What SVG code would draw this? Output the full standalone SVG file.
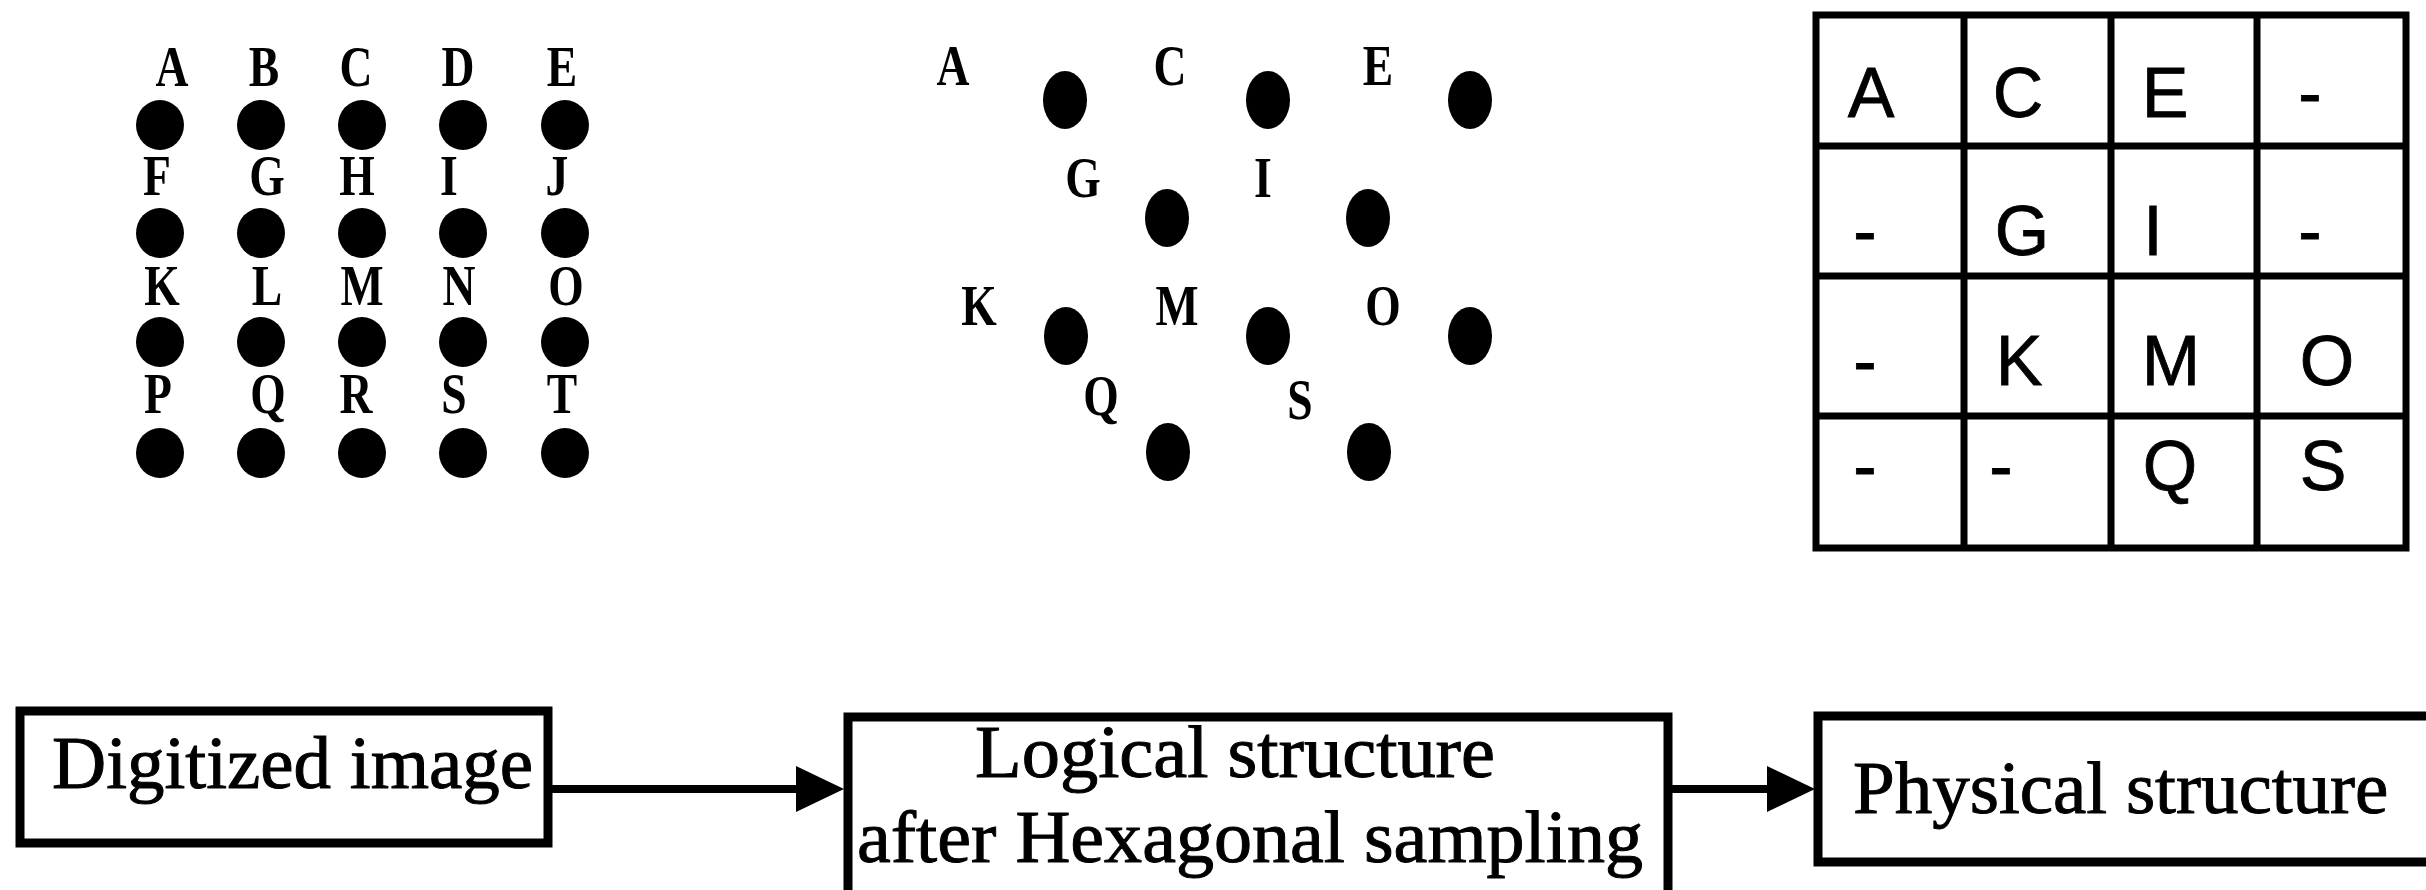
<svg xmlns="http://www.w3.org/2000/svg" width="2426" height="890" viewBox="0 0 2426 890">
<defs>
<style>
.lbl{font-family:"Liberation Serif","Times New Roman",serif;font-weight:bold;font-size:57px;fill:#000;text-anchor:middle}
.cell{font-family:"Liberation Sans",Arial,sans-serif;font-size:70px;fill:#000;text-anchor:middle;stroke:#000;stroke-width:0.8}
.box{fill:#fff;stroke:#000;stroke-width:9}
.btxt{font-family:"Liberation Serif","Times New Roman",serif;font-size:75px;fill:#000;stroke:#000;stroke-width:1}
.grid{fill:none;stroke:#000;stroke-width:7}
.conn{stroke:#000;stroke-width:8;fill:none}
</style>
<marker id="arr" markerUnits="userSpaceOnUse" markerWidth="48" markerHeight="46" refX="0" refY="23" orient="auto">
<path d="M0,0 L48,23 L0,46 z" fill="#000"/>
</marker>
</defs>
<rect width="2426" height="890" fill="#fff"/>

<g id="square-sampling">
<g fill="#000">
<ellipse cx="160" cy="125" rx="24" ry="25"/><ellipse cx="261" cy="125" rx="24" ry="25"/><ellipse cx="362" cy="125" rx="24" ry="25"/><ellipse cx="463" cy="125" rx="24" ry="25"/><ellipse cx="565" cy="125" rx="24" ry="25"/>
<ellipse cx="160" cy="233" rx="24" ry="25"/><ellipse cx="261" cy="233" rx="24" ry="25"/><ellipse cx="362" cy="233" rx="24" ry="25"/><ellipse cx="463" cy="233" rx="24" ry="25"/><ellipse cx="565" cy="233" rx="24" ry="25"/>
<ellipse cx="160" cy="342" rx="24" ry="25"/><ellipse cx="261" cy="342" rx="24" ry="25"/><ellipse cx="362" cy="342" rx="24" ry="25"/><ellipse cx="463" cy="342" rx="24" ry="25"/><ellipse cx="565" cy="342" rx="24" ry="25"/>
<ellipse cx="160" cy="453" rx="24" ry="25"/><ellipse cx="261" cy="453" rx="24" ry="25"/><ellipse cx="362" cy="453" rx="24" ry="25"/><ellipse cx="463" cy="453" rx="24" ry="25"/><ellipse cx="565" cy="453" rx="24" ry="25"/>
</g>
<text class="lbl" transform="translate(172,86) scale(0.8,1)">A</text>
<text class="lbl" transform="translate(264,86) scale(0.8,1)">B</text>
<text class="lbl" transform="translate(356,86) scale(0.8,1)">C</text>
<text class="lbl" transform="translate(458,86) scale(0.8,1)">D</text>
<text class="lbl" transform="translate(562,86) scale(0.8,1)">E</text>
<text class="lbl" transform="translate(157,195) scale(0.8,1)">F</text>
<text class="lbl" transform="translate(267,195) scale(0.8,1)">G</text>
<text class="lbl" transform="translate(357,195) scale(0.8,1)">H</text>
<text class="lbl" transform="translate(449,195) scale(0.8,1)">I</text>
<text class="lbl" transform="translate(557,195) scale(0.8,1)">J</text>
<text class="lbl" transform="translate(162,305) scale(0.8,1)">K</text>
<text class="lbl" transform="translate(267,305) scale(0.8,1)">L</text>
<text class="lbl" transform="translate(362,305) scale(0.8,1)">M</text>
<text class="lbl" transform="translate(459,305) scale(0.8,1)">N</text>
<text class="lbl" transform="translate(566,305) scale(0.8,1)">O</text>
<text class="lbl" transform="translate(158,413) scale(0.8,1)">P</text>
<text class="lbl" transform="translate(268,413) scale(0.8,1)">Q</text>
<text class="lbl" transform="translate(356,413) scale(0.8,1)">R</text>
<text class="lbl" transform="translate(454,413) scale(0.8,1)">S</text>
<text class="lbl" transform="translate(562,413) scale(0.8,1)">T</text>
</g>

<g id="hexagonal-sampling">
<g fill="#000">
<ellipse cx="1065" cy="100" rx="22" ry="29"/><ellipse cx="1268" cy="100" rx="22" ry="29"/><ellipse cx="1470" cy="100" rx="22" ry="29"/>
<ellipse cx="1167" cy="218" rx="22" ry="29"/><ellipse cx="1368" cy="218" rx="22" ry="29"/>
<ellipse cx="1066" cy="336" rx="22" ry="29"/><ellipse cx="1268" cy="336" rx="22" ry="29"/><ellipse cx="1470" cy="336" rx="22" ry="29"/>
<ellipse cx="1168" cy="452" rx="22" ry="29"/><ellipse cx="1369" cy="452" rx="22" ry="29"/>
</g>
<text class="lbl" transform="translate(953,85) scale(0.8,1)">A</text>
<text class="lbl" transform="translate(1170,85) scale(0.8,1)">C</text>
<text class="lbl" transform="translate(1378,85) scale(0.8,1)">E</text>
<text class="lbl" transform="translate(1083,197) scale(0.8,1)">G</text>
<text class="lbl" transform="translate(1263,197) scale(0.8,1)">I</text>
<text class="lbl" transform="translate(979,325) scale(0.8,1)">K</text>
<text class="lbl" transform="translate(1177,325) scale(0.8,1)">M</text>
<text class="lbl" transform="translate(1383,325) scale(0.8,1)">O</text>
<text class="lbl" transform="translate(1101,415) scale(0.8,1)">Q</text>
<text class="lbl" transform="translate(1300,419) scale(0.8,1)">S</text>
</g>

<g id="memory-grid">
<rect class="grid" x="1816" y="15" width="590" height="533" stroke-width="8"/>
<path class="grid" d="M1964,15V548M2111,15V548M2257,15V548M1816,146H2406M1816,276H2406M1816,416H2406"/>
<text class="cell" x="1871" y="117">A</text>
<text class="cell" x="2018" y="117">C</text>
<text class="cell" x="2165" y="117">E</text>
<text class="cell" x="2310" y="117">-</text>
<text class="cell" x="1865" y="255">-</text>
<text class="cell" x="2022" y="255">G</text>
<text class="cell" x="2153" y="255">I</text>
<text class="cell" x="2310" y="255">-</text>
<text class="cell" x="1865" y="385">-</text>
<text class="cell" x="2019" y="385">K</text>
<text class="cell" x="2171" y="385">M</text>
<text class="cell" x="2327" y="385">O</text>
<text class="cell" x="1865" y="490">-</text>
<text class="cell" x="2001" y="490">-</text>
<text class="cell" x="2170" y="490">Q</text>
<text class="cell" x="2323" y="490">S</text>
</g>

<g id="connectors">
<line class="conn" x1="552" y1="789" x2="796" y2="789" marker-end="url(#arr)"/>
<line class="conn" x1="1672" y1="789" x2="1767" y2="789" marker-end="url(#arr)"/>
</g>

<g id="node-digitized">
<rect class="box" x="20" y="711" width="528" height="132"/>
<text class="btxt" x="52" y="788">Digitized image</text>
</g>

<g id="node-logical">
<rect class="box" x="848" y="717" width="820" height="190"/>
<text class="btxt" x="975" y="777" textLength="520" lengthAdjust="spacingAndGlyphs">Logical structure</text>
<text class="btxt" x="857" y="862" textLength="786" lengthAdjust="spacingAndGlyphs">after Hexagonal sampling</text>
</g>

<g id="node-physical">
<rect class="box" x="1818" y="716" width="630" height="146"/>
<text class="btxt" x="1853" y="813">Physical structure</text>
</g>
</svg>
